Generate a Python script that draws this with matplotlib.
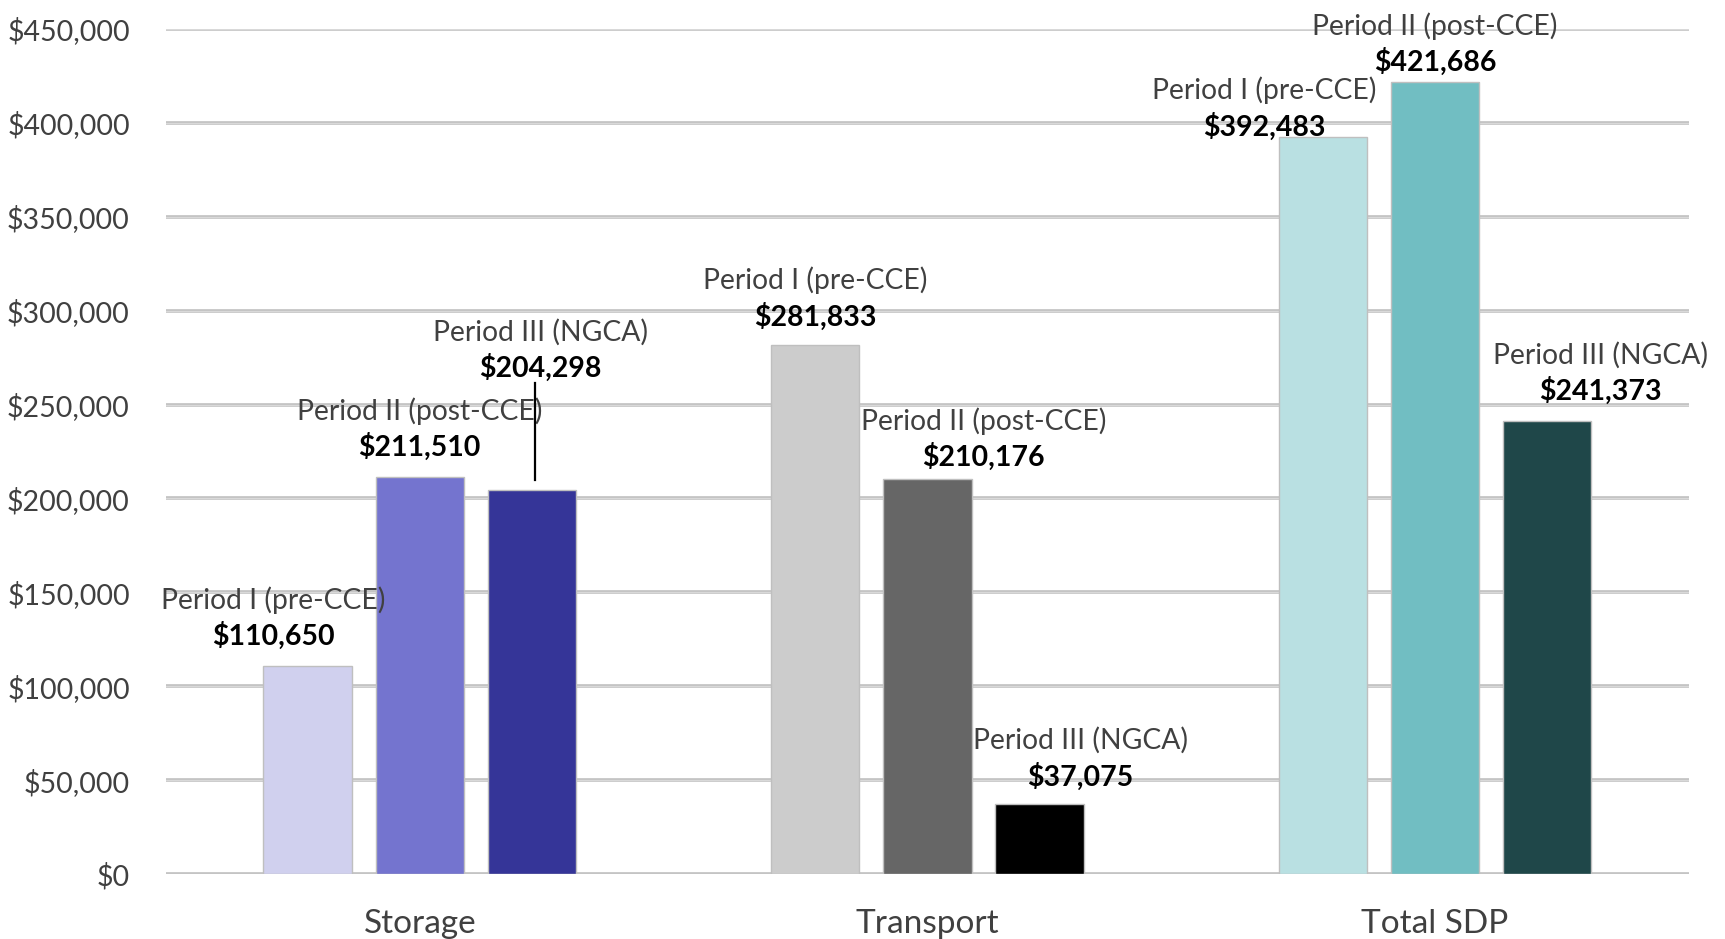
import matplotlib
matplotlib.use("Agg")
import matplotlib.pyplot as plt
import numpy as np

categories = ["Storage", "Transport", "Total SDP"]
period_names = ["Period I (pre-CCE)", "Period II (post-CCE)", "Period III (NGCA)"]
period1 = [110650, 281833, 392483]
period2 = [211510, 210176, 421686]
period3 = [204298, 37075, 241373]
yticks = [0, 50000, 100000, 150000, 200000, 250000, 300000, 350000, 400000, 450000]

colors = [
    ["#D0D0EE", "#7474CF", "#353598"],
    ["#CCCCCC", "#666666", "#000000"],
    ["#B9E0E2", "#71BEC2", "#1F4749"],
]
# label placement (x offset from bar centre in category units, y offset from bar top in data units)
label_dx = [[-0.067, 0.0, 0.017], [0.0, 0.111, 0.081], [-0.115, 0.0, 0.105]]
label_dy = [[16200, 15800, 65100], [15050, 11900, 14900], [5500, 10800, 15800]]

plt.rcParams['font.family'] = ['Lato', 'DejaVu Sans']

fig = plt.figure(figsize=(17.25, 9.39), dpi=100)
ax = fig.add_axes([0.0962, 0.0692, 0.979 - 0.0962, 0.9691 - 0.0692])
ax.set_xlim(-0.5, 2.5)
ax.set_ylim(0, 450000)

for yv in yticks:
    ax.axhline(yv, color="#BFBFBF", lw=2.6, zorder=1)
    ax.axhline(yv, color="#D9D9D9", lw=1.0, zorder=1.1)

series = [period1, period2, period3]
offsets = [-0.221, 0.0, 0.221]
width = 0.174
x = np.arange(len(categories))
for s, vals in enumerate(series):
    for c in range(len(categories)):
        ax.bar(x[c] + offsets[s], vals[c], width=width, color=colors[c][s],
               edgecolor="#BFBFBF", linewidth=1.0, zorder=2)
        lx = x[c] + offsets[s] + label_dx[c][s]
        ly = vals[c] + label_dy[c][s]
        ax.text(lx, ly, "${:,.0f}".format(vals[c]), ha="center", va="center",
                fontsize=20.5, fontweight="bold", color="#000000", zorder=4)
        ax.annotate(period_names[s], xy=(lx, ly), xytext=(0, 26),
                    textcoords="offset points", ha="center", va="center",
                    fontsize=20.3, color="#404040", zorder=4)

# leader line for Storage Period III
x3 = x[0] + offsets[2] + 0.007
ax.plot([x3, x3], [period3[0] + 5500, period3[0] + 57000], color="black", lw=1.6, zorder=5)

ax.set_yticks(yticks)
ax.set_yticklabels(["${:,.0f}".format(v) for v in yticks], fontsize=20.5, color="#404040")
ax.set_xticks(x)
ax.set_xticklabels(categories, fontsize=24, color="#404040")
ax.tick_params(axis="y", length=0, pad=26)
ax.tick_params(axis="x", length=0, pad=25)
for sp in ax.spines.values():
    sp.set_visible(False)

fig.savefig("out.png", dpi=100)
